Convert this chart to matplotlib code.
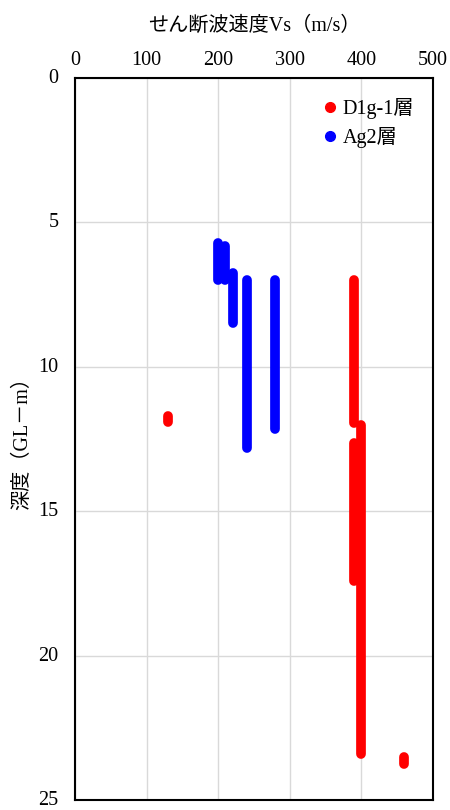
import matplotlib
matplotlib.use("Agg")
import matplotlib.pyplot as plt
import matplotlib.transforms as mtransforms
from matplotlib.lines import Line2D

plt.rcParams['font.family'] = ['Liberation Serif', 'Noto Sans CJK JP', 'DejaVu Sans']

# Data: vertical segments (Vs value, top depth, bottom depth)
red_label = "D1g-1層"
red_vs = [130, 390, 400, 390, 460]
red_top = [11.7, 7.0, 12.0, 12.65, 23.5]
red_bottom = [11.9, 11.95, 23.4, 17.4, 23.75]

blue_label = "Ag2層"
blue_vs = [200, 210, 220, 240, 280]
blue_top = [5.7, 5.8, 6.75, 7.0, 7.0]
blue_bottom = [7.0, 7.0, 8.5, 12.8, 12.15]

x_ticks = [0, 100, 200, 300, 400, 500]
y_ticks = [0, 5, 10, 15, 20, 25]

fig = plt.figure(figsize=(4.5, 8.1), dpi=100)
ax = fig.add_axes([75/450, 1-800/810, (433-75)/450, (800-78)/810])

lw = 7
for vs, t, b in zip(red_vs, red_top, red_bottom):
    ax.plot([vs, vs], [t, b], color='#ff0000', lw=lw, solid_capstyle='round', zorder=3)
for vs, t, b in zip(blue_vs, blue_top, blue_bottom):
    ax.plot([vs, vs], [t, b], color='#0000ff', lw=lw, solid_capstyle='round', zorder=3)

fs = 14.5
ax.set_xlim(0, 500)
ax.set_ylim(25, 0)
ax.set_xticks(x_ticks)
ax.set_yticks(y_ticks)
ax.xaxis.tick_top()
ax.xaxis.set_label_position('top')
ax.tick_params(axis='x', length=0, labelsize=fs, pad=6)
ax.tick_params(axis='y', length=0, labelsize=fs, pad=12)
# nudge y tick labels slightly upward so the bottom one stays inside the figure
offset = mtransforms.ScaledTranslation(0, 2/100, fig.dpi_scale_trans)
for lab in ax.get_yticklabels():
    lab.set_transform(lab.get_transform() + offset)
ax.grid(True, color='#d9d9d9', lw=1)
ax.set_axisbelow(True)
for s in ax.spines.values():
    s.set_linewidth(1.5)
    s.set_color('black')

ax.set_xlabel("せん断波速度Vs（m/s）", fontsize=fs, labelpad=14)
ax.set_ylabel("深度（GL－m）", fontsize=fs)
ax.yaxis.set_label_coords(-0.12, 0.5)

handles = [Line2D([], [], color='#ff0000', marker='o', linestyle='none', markersize=7),
           Line2D([], [], color='#0000ff', marker='o', linestyle='none', markersize=7)]
ax.legend(handles, [red_label, blue_label], loc='upper right', frameon=False,
          fontsize=fs, handletextpad=0.05, borderaxespad=0.5, labelspacing=0.4,
          handlelength=1.2, bbox_to_anchor=(0.998, 0.997))

fig.savefig('out.png', dpi=100)
